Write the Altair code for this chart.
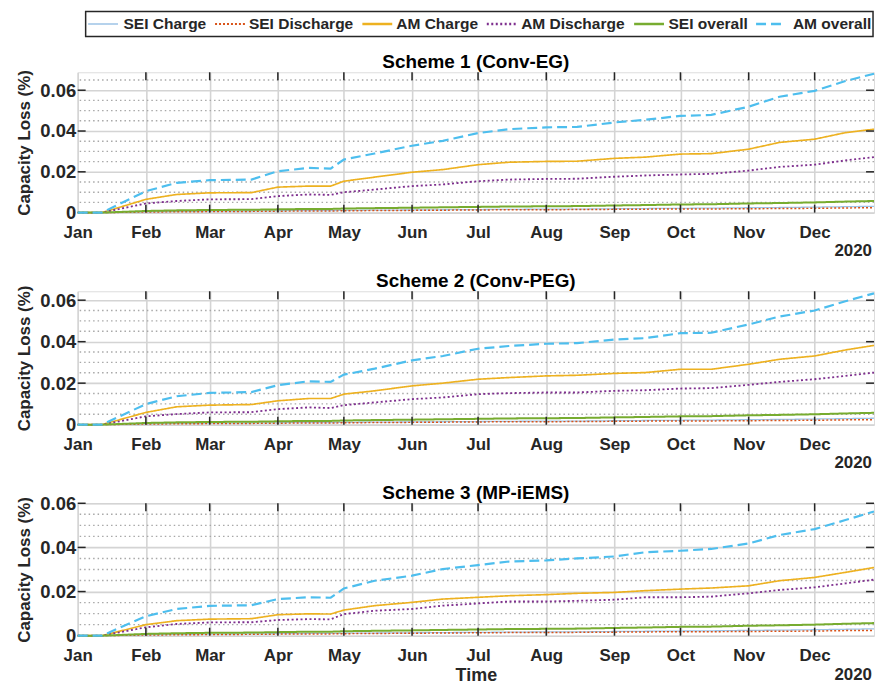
import altair as alt
import pandas as pd

# ---------------- data ----------------
dates = ["2020-01-01", "2020-01-12", "2020-02-01", "2020-02-15", "2020-03-01", "2020-03-20",
         "2020-04-01", "2020-04-15", "2020-04-25", "2020-05-01", "2020-05-15", "2020-06-01",
         "2020-06-15", "2020-07-01", "2020-07-15", "2020-08-01", "2020-08-15", "2020-09-01",
         "2020-09-15", "2020-10-01", "2020-10-15", "2020-11-01", "2020-11-15", "2020-12-01",
         "2020-12-15", "2020-12-28"]

series_names = ["SEI Charge", "SEI Discharge", "AM Charge", "AM Discharge", "SEI overall", "AM overall"]
series_colors = ["#9DC3E6", "#D95319", "#EDB120", "#7E2F8E", "#77AC30", "#4DBEEE"]
series_dashes = [[1, 0], [2, 2], [1, 0], [2, 2.5], [1, 0], [10, 5]]
series_widths = [1.3, 2.2, 2.4, 2.4, 2.4, 2.4]

panel_titles = ["Scheme 1 (Conv-EG)", "Scheme 2 (Conv-PEG)", "Scheme 3 (MP-iEMS)"]
panel_ymax = [0.0688, 0.0643, 0.06]
panel_heights = [141, 134, 133]

sei_charge = [0, 0, 0.0004, 0.0006, 0.0007, 0.0008, 0.0009, 0.0010, 0.0010, 0.0011, 0.0012, 0.0013,
              0.0014, 0.0015, 0.0016, 0.0017, 0.0017, 0.0019, 0.0020, 0.0021, 0.0022, 0.0024, 0.0025,
              0.0027, 0.0029, 0.0031]
sei_discharge = [0, 0, 0.0003, 0.0004, 0.0005, 0.0006, 0.0007, 0.0008, 0.0008, 0.0009, 0.0010, 0.0011,
                 0.0012, 0.0013, 0.0014, 0.0014, 0.0015, 0.0016, 0.0017, 0.0018, 0.0018, 0.0019, 0.0020,
                 0.0021, 0.0023, 0.0024]
sei_overall = [0, 0, 0.0008, 0.0011, 0.0013, 0.0014, 0.0016, 0.0018, 0.0018, 0.0020, 0.0022, 0.0024,
               0.0026, 0.0028, 0.0030, 0.0031, 0.0032, 0.0035, 0.0037, 0.0040, 0.0041, 0.0045, 0.0047,
               0.0050, 0.0054, 0.0057]

s1_am_charge = [0, 0, 0.0065, 0.0089, 0.0097, 0.0098, 0.0125, 0.0130, 0.0130, 0.0154, 0.0174, 0.0198,
                0.0211, 0.0235, 0.0247, 0.0251, 0.0252, 0.0266, 0.0272, 0.0287, 0.0289, 0.0311, 0.0344,
                0.0360, 0.0392, 0.0409]
s1_am_discharge = [0, 0, 0.0045, 0.0057, 0.0065, 0.0066, 0.0081, 0.0089, 0.0087, 0.0100, 0.0113, 0.0130,
                   0.0138, 0.0154, 0.0162, 0.0165, 0.0166, 0.0176, 0.0182, 0.0187, 0.0190, 0.0206, 0.0224,
                   0.0235, 0.0256, 0.0272]
s1_am_overall = [0, 0, 0.0105, 0.0146, 0.0159, 0.0162, 0.0203, 0.0219, 0.0216, 0.0260, 0.0290, 0.0328,
                 0.0352, 0.0390, 0.0409, 0.0418, 0.0420, 0.0442, 0.0455, 0.0474, 0.0479, 0.0519, 0.0568,
                 0.0597, 0.0645, 0.0681]

s2_am_charge = [0, 0, 0.0059, 0.0086, 0.0094, 0.0097, 0.0115, 0.0126, 0.0126, 0.0147, 0.0163, 0.0187,
                0.0200, 0.0219, 0.0227, 0.0235, 0.0238, 0.0247, 0.0251, 0.0267, 0.0267, 0.0291, 0.0315,
                0.0331, 0.0360, 0.0382]
s2_am_discharge = [0, 0, 0.0040, 0.0051, 0.0059, 0.0060, 0.0075, 0.0083, 0.0080, 0.0094, 0.0107, 0.0123,
                   0.0131, 0.0147, 0.0152, 0.0155, 0.0155, 0.0163, 0.0166, 0.0174, 0.0176, 0.0192, 0.0206,
                   0.0219, 0.0235, 0.0251]
s2_am_overall = [0, 0, 0.0099, 0.0137, 0.0153, 0.0157, 0.0190, 0.0209, 0.0206, 0.0241, 0.0270, 0.0310,
                 0.0331, 0.0366, 0.0379, 0.0390, 0.0393, 0.0410, 0.0417, 0.0441, 0.0443, 0.0483, 0.0521,
                 0.0550, 0.0595, 0.0633]

s3_am_charge = [0, 0, 0.0050, 0.0068, 0.0075, 0.0077, 0.0095, 0.0099, 0.0098, 0.0116, 0.0136, 0.0151,
                0.0166, 0.0174, 0.0181, 0.0186, 0.0192, 0.0196, 0.0204, 0.0211, 0.0216, 0.0226, 0.0249,
                0.0264, 0.0287, 0.0309]
s3_am_discharge = [0, 0, 0.0038, 0.0053, 0.0060, 0.0061, 0.0071, 0.0075, 0.0074, 0.0098, 0.0113, 0.0121,
                   0.0136, 0.0146, 0.0155, 0.0155, 0.0158, 0.0163, 0.0174, 0.0174, 0.0177, 0.0192, 0.0207,
                   0.0219, 0.0237, 0.0254]
s3_am_overall = [0, 0, 0.0088, 0.0121, 0.0135, 0.0138, 0.0166, 0.0174, 0.0172, 0.0214, 0.0249, 0.0272,
                 0.0302, 0.0320, 0.0336, 0.0341, 0.0350, 0.0359, 0.0378, 0.0385, 0.0393, 0.0418, 0.0456,
                 0.0483, 0.0524, 0.0563]

panel_series = [
    [sei_charge, sei_discharge, s1_am_charge, s1_am_discharge, sei_overall, s1_am_overall],
    [sei_charge, sei_discharge, s2_am_charge, s2_am_discharge, sei_overall, s2_am_overall],
    [sei_charge, sei_discharge, s3_am_charge, s3_am_discharge, sei_overall, s3_am_overall],
]

month_ticks = ["2020-%02d-01" % m for m in range(2, 13)]
major_y = [0.02, 0.04, 0.06]
minor_y = [0.005, 0.01, 0.015, 0.025, 0.03, 0.035, 0.045, 0.05, 0.055, 0.065]

# ---------------- layout / styling ----------------
FONT = "Liberation Sans"
TXT = "#262626"
W = 800
TICK = 8
x_domain = [alt.DateTime(year=2020, month=1, date=1), alt.DateTime(year=2020, month=12, date=28)]
x_values = [alt.DateTime(year=2020, month=m, date=1) for m in range(1, 13)]

# legend layout (pixels relative to the first panel's plot area)
LEG_BOX = (8, 799, -61, -36)
LEG_LINE_X = [10.5, 138, 286, 411, 559, 681.5]
LEG_LABEL_X = [46, 172, 320, 445.5, 593.5, 718.5]
LEG_LINE_LEN = 30


def legend_layers():
    x1, x2, y1, y2 = LEG_BOX
    one = pd.DataFrame({"k": [0]})
    layers = [alt.Chart(one).mark_rect(filled=False, stroke=TXT, strokeWidth=1.5).encode(
        x=alt.value(x1), x2=alt.value(x2), y=alt.value(y1), y2=alt.value(y2))]
    ymid = (y1 + y2) / 2
    for name, col, dash, wid, lx, tx in zip(series_names, series_colors, series_dashes,
                                            series_widths, LEG_LINE_X, LEG_LABEL_X):
        layers.append(alt.Chart(one).mark_rule(color=col, strokeDash=dash, strokeWidth=wid).encode(
            x=alt.value(lx), x2=alt.value(lx + LEG_LINE_LEN), y=alt.value(ymid)))
        layers.append(alt.Chart(pd.DataFrame({"t": [name]})).mark_text(
            align="left", baseline="middle", font=FONT, fontSize=15.6, fontWeight="bold", color=TXT
        ).encode(x=alt.value(tx), y=alt.value(ymid), text="t:N"))
    return layers


def panel(i):
    H = panel_heights[i]
    ymax = panel_ymax[i]
    rows = []
    for name, vals in zip(series_names, panel_series[i]):
        for d, v in zip(dates, vals):
            rows.append({"date": pd.Timestamp(d), "series": name, "value": v})
    df = pd.DataFrame(rows)

    yscale = alt.Scale(domain=[0, ymax], nice=False, zero=True)
    xscale = alt.Scale(domain=x_domain)

    x_axis = alt.Axis(values=x_values, format="%b", labelFlush=False, tickSize=0, labelPadding=12,
                      grid=True, gridColor="#d4d4d4", gridWidth=1.6, domain=False,
                      title="Time" if i == 2 else None, titlePadding=3,
                      labelFont=FONT, labelFontSize=17, labelFontWeight="bold", labelColor=TXT,
                      titleFont=FONT, titleFontSize=18, titleFontWeight="bold", titleColor=TXT)
    y_axis = alt.Axis(values=[0] + major_y, labelExpr="datum.value == 0 ? '0' : format(datum.value, '.2f')",
                      tickSize=0, labelPadding=2, grid=True, gridColor="#d4d4d4", gridWidth=1.6,
                      domain=False, title="Capacity Loss (%)", titlePadding=6,
                      labelFont=FONT, labelFontSize=18.5, labelFontWeight="bold", labelColor=TXT,
                      titleFont=FONT, titleFontSize=17, titleFontWeight="bold", titleColor=TXT)

    minor = alt.Chart(pd.DataFrame({"v": [m for m in minor_y if m < ymax]})).mark_rule(
        color="#a8a8a8", strokeWidth=1.4, strokeDash=[1.5, 3]
    ).encode(y=alt.Y("v:Q", scale=yscale, axis=y_axis))

    lines = alt.Chart(df).mark_line(interpolate="linear").encode(
        x=alt.X("date:T", scale=xscale, axis=x_axis),
        y=alt.Y("value:Q", scale=yscale, axis=y_axis),
        color=alt.Color("series:N", scale=alt.Scale(domain=series_names, range=series_colors),
                        sort=series_names, legend=None),
        strokeDash=alt.StrokeDash("series:N", scale=alt.Scale(domain=series_names, range=series_dashes),
                                  sort=series_names, legend=None),
        strokeWidth=alt.StrokeWidth("series:N", scale=alt.Scale(domain=series_names,
                                                               range=series_widths),
                                    legend=None),
        order=alt.Order("date:T"),
    )

    mt = pd.DataFrame({"d": pd.to_datetime(month_ticks)})
    top_ticks = alt.Chart(mt).mark_rule(color=TXT, strokeWidth=1.5).encode(
        x=alt.X("d:T", scale=xscale), y=alt.value(0), y2=alt.value(TICK))
    bot_ticks = alt.Chart(mt).mark_rule(color=TXT, strokeWidth=1.5).encode(
        x=alt.X("d:T", scale=xscale), y=alt.value(H - TICK), y2=alt.value(H))
    yt = pd.DataFrame({"v": [m for m in major_y if m <= ymax + 1e-9]})
    left_ticks = alt.Chart(yt).mark_rule(color=TXT, strokeWidth=1.5).encode(
        y=alt.Y("v:Q", scale=yscale), x=alt.value(0), x2=alt.value(TICK))
    right_ticks = alt.Chart(yt).mark_rule(color=TXT, strokeWidth=1.5).encode(
        y=alt.Y("v:Q", scale=yscale), x=alt.value(W - TICK), x2=alt.value(W))

    year_y = H + 32 if i == 2 else H + 31
    year = alt.Chart(pd.DataFrame({"t": ["2020"]})).mark_text(
        align="right", baseline="top", font=FONT, fontSize=17, fontWeight="bold", color=TXT
    ).encode(x=alt.value(W - 2), y=alt.value(year_y), text="t:N")

    title = alt.Chart(pd.DataFrame({"t": [panel_titles[i]]})).mark_text(
        align="center", baseline="alphabetic", font=FONT, fontSize=19, fontWeight="bold", color="#000000"
    ).encode(x=alt.value(W / 2), y=alt.value(-4), text="t:N")

    layers = [minor, lines, top_ticks, bot_ticks, left_ticks, right_ticks, year, title]
    if i == 0:
        layers += legend_layers()
    return alt.layer(*layers).properties(width=W, height=H)


chart = alt.vconcat(panel(0), panel(1), panel(2), spacing=11).resolve_scale(
    y="independent", x="independent"
).properties(
    padding={"left": 7, "top": 0, "right": 0, "bottom": 0}
).configure_view(
    stroke=TXT, strokeWidth=1.6
).configure(background="white")

chart.save("out.html", embed_options={"renderer": "svg", "actions": False})
